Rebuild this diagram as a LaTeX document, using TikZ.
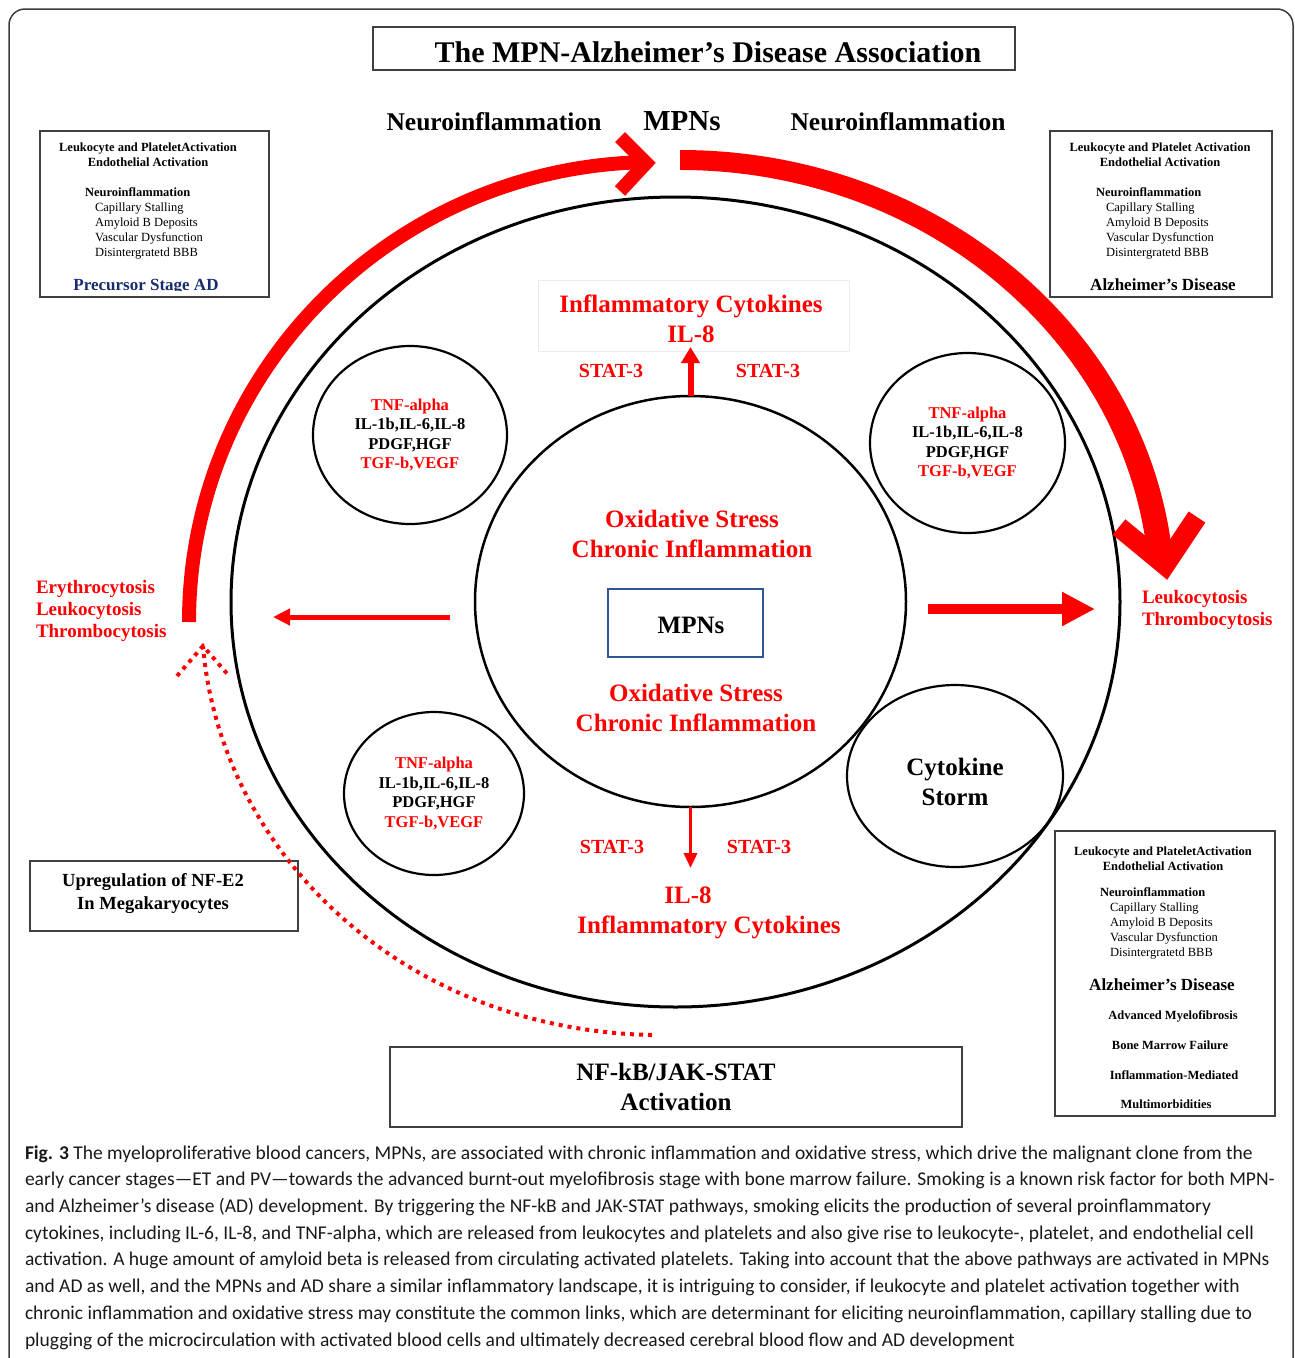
\documentclass[tikz,border=0pt]{standalone}
\usepackage{fontspec}
\setmainfont{Liberation Serif}
\newfontfamily\captionfont{Carlito}
\usepackage{xcolor}
\usepackage{tikz}
\usetikzlibrary{arrows.meta}
\usetikzlibrary{shapes.geometric}
\usetikzlibrary{positioning}
\definecolor{mpnred}{RGB}{255,0,0}
\definecolor{adnavy}{RGB}{25,45,110}
\definecolor{mpnblue}{RGB}{47,85,151}
\definecolor{framegray}{RGB}{60,60,60}
\newcommand{\CellList}{\textcolor{mpnred}{TNF-alpha}\\IL-1b,IL-6,IL-8\\PDGF,HGF\\\textcolor{mpnred}{TGF-b,VEGF}}
% #1 prefix of the names, #2 x, #3 baseline of the first line
\newcommand{\NeuroList}[3]{%
  \node[ADBold, anchor=base west] (#1neuro) at (#2,#3) {Neuroinflammation};
  \foreach \entry [count=\i] in {Capillary Stalling, Amyloid B Deposits, Vascular Dysfunction, Disintergratetd BBB}
    \node[ADItem, anchor=base west] (#1item\i) at ({#2+10},{#3+15*\i}) {\entry};
}

\begin{document}
\begin{tikzpicture}[
x=1pt, y=-1pt,
every node/.style={inner sep=0pt, outer sep=0pt},
MyBoxes/.style={draw=black!75, line width=1.3pt},
MyEllipses/.style={draw=black, ellipse, line width=2.2pt},
TitleText/.style={font=\bfseries\fontsize{30}{36}\selectfont},
HeadText/.style={font=\bfseries\fontsize{25.5}{30}\selectfont},
RedText/.style={text=mpnred, font=\bfseries\fontsize{25}{30}\selectfont, align=center},
StatText/.style={text=mpnred, font=\bfseries\fontsize{20}{24}\selectfont},
CellText/.style={font=\bfseries\fontsize{16.5}{19.5}\selectfont, align=center},
CytosisText/.style={text=mpnred, font=\bfseries\fontsize{19}{22}\selectfont, align=left},
ADHead/.style={font=\bfseries\fontsize{12.5}{15}\selectfont, align=center},
ADItem/.style={font=\fontsize{12.5}{15}\selectfont},
ADBold/.style={font=\bfseries\fontsize{12.5}{15}\selectfont},
ADStage/.style={font=\bfseries\fontsize{17}{20}\selectfont},
BoxText/.style={font=\bfseries\fontsize{18.5}{23}\selectfont, align=center},
CaptionText/.style={font=\captionfont\fontsize{19.5}{24}\selectfont, text=black!90}
]
\useasboundingbox (0,0) rectangle (1295,1358);
\clip (0,0) rectangle (1295,1358);
\draw[framegray, line width=1.5pt, rounded corners=16pt] (9,9) rectangle (1293,1400);

% title and heads
\node[MyBoxes, minimum width=642pt, minimum height=43pt] (titlebox) at (694,48.5) {};
\node[TitleText, anchor=base] (title) at (708,62) {The MPN-Alzheimer’s Disease Association};
\node[HeadText, anchor=base] (neuroL) at (494,130) {Neuroinflammation};
\node[font=\bfseries\fontsize{29}{34}\selectfont, anchor=base] (mpnsTop) at (682,130) {MPNs};
\node[HeadText, anchor=base] (neuroR) at (898,130) {Neuroinflammation};

% AD boxes
\node[MyBoxes, minimum width=229pt, minimum height=166pt] (boxPre) at (154.5,214) {};
\node[ADHead] (preHead) at (148,155) {Leukocyte and PlateletActivation\\Endothelial Activation};
\NeuroList{pre}{85}{196}
\begin{scope}
\clip (40,131) rectangle (269,290);
\node[ADStage, text=adnavy, anchor=base] (preStage) at (146,290) {Precursor Stage AD};
\end{scope}

\node[MyBoxes, minimum width=222pt, minimum height=166pt] (boxAD) at (1161,214) {};
\node[ADHead] (adHead) at (1160,155) {Leukocyte and Platelet Activation\\Endothelial Activation};
\NeuroList{ad}{1096}{196}
\node[ADStage, anchor=base] (adStage) at (1163,290) {Alzheimer’s Disease};

\node[MyBoxes, minimum width=220pt, minimum height=285pt] (boxMF) at (1165,973.5) {};
\node[ADHead] (mfHead) at (1163,859) {Leukocyte and PlateletActivation\\Endothelial Activation};
\NeuroList{mf}{1100}{896}
\node[ADStage, anchor=base] (mfStage) at (1162,990) {Alzheimer’s Disease};
\foreach \entry/\xx/\yy [count=\i] in {Advanced Myelofibrosis/1173/1019, Bone Marrow Failure/1170/1049, Inflammation-Mediated/1174/1079, Multimorbidities/1166/1108}
  \node[ADBold, anchor=base] (mfEnd\i) at (\xx,\yy) {\entry};

% ellipses
\node[MyEllipses, line width=3pt, minimum width=889pt, minimum height=810pt] (outer) at (675.5,602) {};
\node[MyEllipses, line width=2.5pt, minimum width=431pt, minimum height=411pt] (core) at (690.5,601.5) {};
\node[MyEllipses, minimum width=194pt, minimum height=178pt, CellText] (cellA) at (410,435) {\CellList};
\node[MyEllipses, minimum width=195pt, minimum height=180pt, CellText] (cellB) at (967.5,443) {\CellList};
\node[MyEllipses, minimum width=180pt, minimum height=163pt, CellText] (cellC) at (434,793.5) {\CellList};
\node[MyEllipses, minimum width=216pt, minimum height=182pt] (storm) at (955,776) {};
\node[font=\bfseries\fontsize{25}{30}\selectfont, align=center] (stormText) at (955,782) {Cytokine\\Storm};

% core texts
\draw[gray!15, line width=1pt] (538,280) rectangle (849,351);
\node[RedText] (topCyto) at (691,319) {Inflammatory Cytokines\\IL-8};
\node[StatText, anchor=base] (statUL) at (611,377) {STAT-3};
\node[StatText, anchor=base] (statUR) at (768,377) {STAT-3};
\node[RedText] (oxTop) at (692,534) {Oxidative Stress\\Chronic Inflammation};
\node[draw=mpnblue, line width=2pt, minimum width=155pt, minimum height=68pt] (mpnsBox) at (685.5,623) {};
\node[font=\bfseries\fontsize{25}{30}\selectfont, anchor=base] (mpnsText) at (691,633) {MPNs};
\node[RedText] (oxBot) at (696,708) {Oxidative Stress\\Chronic Inflammation};
\node[StatText, anchor=base] (statLL) at (612,853) {STAT-3};
\node[StatText, anchor=base] (statLR) at (759,853) {STAT-3};
\node[RedText, anchor=base] (il8Bot) at (688,903) {IL-8};
\node[RedText, anchor=base] (cytoBot) at (709,933) {Inflammatory Cytokines};

% side texts and boxes
\node[CytosisText, anchor=west] (cytosisL) at (36,610.5) {Erythrocytosis\\Leukocytosis\\Thrombocytosis};
\node[CytosisText, anchor=west] (cytosisR) at (1142,609.5) {Leukocytosis\\Thrombocytosis};
\node[MyBoxes, minimum width=268pt, minimum height=70pt] (nfe2Box) at (164,896) {};
\node[BoxText] (nfe2) at (153,894) {Upregulation of NF-E2\\In Megakaryocytes};
\node[MyBoxes, minimum width=572pt, minimum height=80pt, font=\bfseries\fontsize{25}{30}\selectfont, align=center] (nfkbBox) at (676,1087) {NF-kB/JAK-STAT\\Activation};

% straight arrows
\coordinate (upTip) at (687,347);
\coordinate (downTip) at (687,868);
\coordinate (leftStart) at (450,617);
\coordinate (leftTip) at (273,617);
\coordinate (rightStart) at (928,609);
\coordinate (rightTip) at (1095,609);
\draw[mpnred, line width=6pt, -{Triangle[length=16pt, width=18pt]}] (core.north) -- (core.north |- upTip);
\draw[mpnred, line width=3.5pt, -{Triangle[length=15pt, width=13pt]}] (core.south) -- (core.south |- downTip);
\draw[mpnred, line width=5pt, -{Triangle[length=17pt, width=16pt]}] (leftStart) -- (leftTip);
\draw[mpnred, line width=10pt, -{Triangle[length=33pt, width=32pt]}] (rightStart) -- (rightTip);

% big arcs
\coordinate (arcLStart) at (189,622);
\coordinate (headLa) at (620,137);
\coordinate (headLtip) at (646,163);
\coordinate (headLb) at (620,191);
\draw[mpnred, line width=14pt] (arcLStart) arc[start angle=180, end angle=268, x radius=466, y radius=460];
\draw[mpnred, line width=14pt, line join=miter] (headLa) -- (headLtip) -- (headLb);

\fill[mpnred] (680,150) arc[start angle=270, end angle=355, x radius=495, y radius=450] -- (1148.2,562.5) arc[start angle=355, end angle=270, x radius=470, y radius=430] -- cycle;
\coordinate (headRa) at (1119,527);
\coordinate (headRtip) at (1165,565);
\coordinate (headRb) at (1197,517);
\draw[mpnred, line width=20pt, line join=miter] (headRa) -- (headRtip) -- (headRb);

% dotted arc
\coordinate (dotStart) at (652,1035);
\coordinate (dotTip) at (203,646);
\coordinate (dotHeadA) at (177,676);
\coordinate (dotHeadB) at (230,677);
\draw[mpnred, line width=4pt, dash pattern=on 4pt off 5pt] (dotStart) .. controls (400,1030) and (220,850) .. (dotTip);
\draw[mpnred, line width=4pt, dash pattern=on 4pt off 5pt] (dotHeadA) -- (dotTip) -- (dotHeadB);

% caption
\foreach \capline [count=\i] in {
{\textbf{Fig. 3} The myeloproliferative blood cancers, MPNs, are associated with chronic inflammation and oxidative stress, which drive the malignant clone from the},
{early cancer stages—ET and PV—towards the advanced burnt-out myelofibrosis stage with bone marrow failure. Smoking is a known risk factor for both MPN-},
{and Alzheimer’s disease (AD) development. By triggering the NF-kB and JAK-STAT pathways, smoking elicits the production of several proinflammatory},
{cytokines, including IL-6, IL-8, and TNF-alpha, which are released from leukocytes and platelets and also give rise to leukocyte-, platelet, and endothelial cell},
{activation. A huge amount of amyloid beta is released from circulating activated platelets. Taking into account that the above pathways are activated in MPNs},
{and AD as well, and the MPNs and AD share a similar inflammatory landscape, it is intriguing to consider, if leukocyte and platelet activation together with},
{chronic inflammation and oxidative stress may constitute the common links, which are determinant for eliciting neuroinflammation, capillary stalling due to},
{plugging of the microcirculation with activated blood cells and ultimately decreased cerebral blood flow and AD development}}
  \node[CaptionText, anchor=base west] (cap\i) at (25,{1132.4+26.7*\i}) {\capline};

\end{tikzpicture}
\end{document}
